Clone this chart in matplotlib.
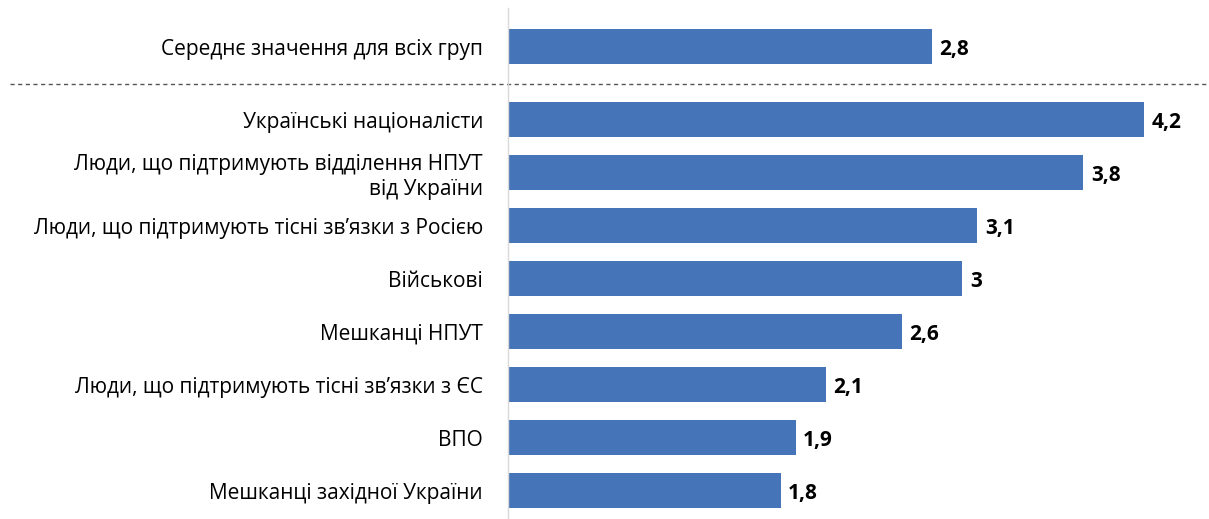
import matplotlib.pyplot as plt
from matplotlib.transforms import blended_transform_factory

plt.rcParams['font.family'] = ['Open Sans', 'Noto Sans', 'DejaVu Sans']

avg_label = 'Середнє значення для всіх груп'
avg_value = 2.8

groups = [
    'Українські націоналісти',
    'Люди, що підтримують відділення НПУТ\nвід України',
    'Люди, що підтримують тісні зв’язки з Росією',
    'Військові',
    'Мешканці НПУТ',
    'Люди, що підтримують тісні зв’язки з ЄС',
    'ВПО',
    'Мешканці західної України',
]
values = [4.2, 3.8, 3.1, 3.0, 2.6, 2.1, 1.9, 1.8]

bar_color = '#4674B8'

fig = plt.figure(figsize=(12.09, 5.19), dpi=100)
ax = fig.add_axes([508 / 1209, 0, 701 / 1209, 511 / 519])

# group rows, with the average row set apart above a dashed divider
pos = list(range(len(groups)))
avg_pos = -1.38
labels = [avg_label] + groups
all_pos = [avg_pos] + pos
all_vals = [avg_value] + values

ax.barh(all_pos, all_vals, height=0.66, color=bar_color)
for p, v in zip(all_pos, all_vals):
    txt = f'{v:g}'.replace('.', ',')
    ax.text(v + 0.05, p + 0.05, txt, va='center', ha='left', fontsize=15,
            fontweight='bold', color='black')

trans = blended_transform_factory(ax.transAxes, ax.transData)
ax.plot([-0.71, 1.0], [-0.68, -0.68], transform=trans, clip_on=False,
        color='#555555', linestyle=(0, (3, 2.5)), linewidth=1)

ax.set_yticks(all_pos)
ax.set_yticklabels(labels, fontsize=15)
ax.tick_params(axis='y', length=0, pad=18)
ax.set_xticks([])
ax.set_xlim(0, 701 / 151.4)
ax.set_ylim(7.53, -2.11)

for s in ['top', 'right', 'bottom']:
    ax.spines[s].set_visible(False)
ax.spines['left'].set_color('#d9d9d9')
ax.spines['left'].set_linewidth(1)

plt.savefig('out.png', dpi=100)
